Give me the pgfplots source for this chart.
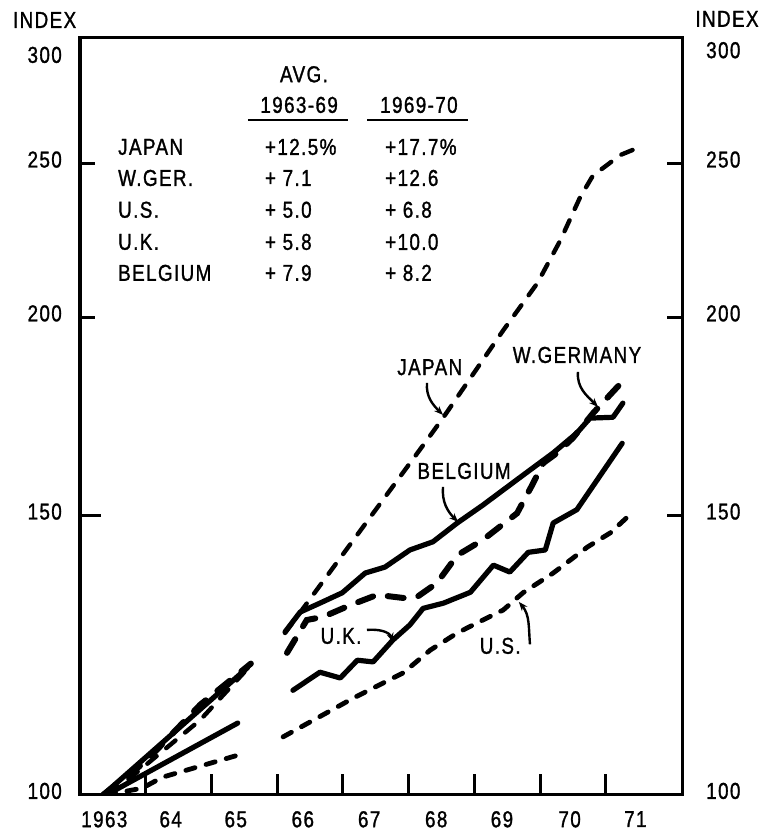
\documentclass[border=0pt]{standalone}
\usepackage{fontspec}
\setmainfont{Liberation Sans}[FakeStretch=0.82, LetterSpace=6, FakeBold=1.2]
\usepackage{pgfplots}
\pgfplotsset{compat=1.18}
\usetikzlibrary{arrows.meta}
\newcommand{\lf}{\fontsize{23}{27}\selectfont}
\tikzset{
  japan/.style={line width=4.4pt, dash pattern=on 12pt off 12.5pt, line cap=round},
  wger/.style={line width=6pt, dash pattern=on 16pt off 15pt, line cap=round},
  solidc/.style={line width=5.2pt, line cap=round, line join=round},
  usline/.style={line width=4.8pt, dash pattern=on 9.5pt off 11.5pt, line cap=round},
  lab/.style={font=\lf, inner sep=0pt},
  arr/.style={line width=2.4pt, -{Stealth[length=9pt,width=7pt]}},
}
\begin{document}
\begin{tikzpicture}
% main axis: frame, x tick marks, data, annotations
\begin{axis}[name=main, scale only axis, width=602pt, height=757pt,
  xmin=1963, xmax=1972.16, ymin=100, ymax=300, ymode=log,
  axis line style={line width=3pt},
  xtick={1964,1965,1966,1967,1968,1969,1970,1971}, xticklabels={},
  xtick pos=bottom, ytick={150}, yticklabels={}, ytick pos=left,
  major tick length=21pt, tick align=inside,
  tick style={line width=3pt, black}, minor tick num=0]
% ---- 1963-65 segment
\addplot[solidc] coordinates {(1963.35,100) (1965.55,120.3)};
\addplot[wger] coordinates {(1963.35,100) (1964.0,105) (1964.83,114) (1965.6,121)};
\addplot[japan] coordinates {(1963.45,100) (1964.83,111.5) (1965.5,119.5)};
\addplot[solidc] coordinates {(1963.4,100) (1965.4,111)};
\addplot[usline] coordinates {(1963.4,100) (1963.95,101) (1964.25,102.6) (1965.42,106)};
% ---- 1966-71 segment
% Japan
\addplot[japan] coordinates {
 (1966.12,126.5) (1968.28,167.4) (1968.53,173.0) (1969.44,196.3) (1969.96,210.2)
 (1970.31,223.7) (1970.61,238.1) (1970.81,245.9) (1970.96,248.4) (1971.22,253.1) (1971.52,256.1)};
% W. Germany
\addplot[wger] coordinates {
 (1966.15,122.9) (1966.45,128.9) (1966.70,129.5) (1967.11,131.7) (1967.52,133.7)
 (1967.92,133.1) (1968.13,133.3) (1968.43,136.0) (1968.74,141.6) (1969.13,144.8)
 (1969.65,150.5) (1969.88,156.8) (1970.05,161.9) (1970.26,164.3) (1970.50,167.9)
 (1970.81,174.1) (1971.30,183.1)};
% Belgium
\addplot[solidc] coordinates {
 (1966.12,126.7) (1966.35,130.4) (1966.65,132.1) (1966.99,134.1) (1967.34,138.0)
 (1967.64,139.2) (1968.02,142.7) (1968.37,144.4) (1968.74,148.4) (1969.13,152.3)
 (1969.70,158.6) (1970.20,164.3) (1970.56,169.1) (1970.76,172.8) (1971.11,173.0) (1971.26,176.6)};
% U.K.
\addplot[solidc] coordinates {
 (1966.24,116.4) (1966.65,119.5) (1966.96,118.5) (1967.22,121.6) (1967.46,121.3)
 (1967.76,125.2) (1968.02,128.0) (1968.22,131.1) (1968.53,132.1) (1968.94,134.2)
 (1969.29,139.6) (1969.54,138.2) (1969.82,142.2) (1970.08,142.7) (1970.20,148.4)
 (1970.56,151.3) (1971.25,166.6)};
% U.S.
\addplot[usline] coordinates {
 (1966.09,108.8) (1967.16,115.1) (1967.92,119.4) (1968.33,123.4) (1968.74,126.5)
 (1969.13,128.9) (1969.44,130.8) (1969.74,134.1) (1970.20,138.0) (1970.72,143.3)
 (1971.07,146.3) (1971.33,149.7)};
% ---- table of growth rates
\node[lab] at (rel axis cs:0.372,0.952) {AVG.};
\node[lab] at (rel axis cs:0.364,0.9115) {1963-69};
\node[lab] at (rel axis cs:0.563,0.9115) {1969-70};
\draw[line width=2.5pt] (rel axis cs:0.279,0.8917) -- (rel axis cs:0.445,0.8917);
\draw[line width=2.5pt] (rel axis cs:0.477,0.8917) -- (rel axis cs:0.645,0.8917);
\node[lab, anchor=west] at (rel axis cs:0.0631,0.856) {JAPAN};
\node[lab, anchor=west] at (rel axis cs:0.307,0.856) {+12.5\%};
\node[lab, anchor=west] at (rel axis cs:0.5066,0.856) {+17.7\%};
\node[lab, anchor=west] at (rel axis cs:0.0631,0.815) {W.GER.};
\node[lab, anchor=west] at (rel axis cs:0.307,0.815) {+ 7.1};
\node[lab, anchor=west] at (rel axis cs:0.5066,0.815) {+12.6};
\node[lab, anchor=west] at (rel axis cs:0.0631,0.773) {U.S.};
\node[lab, anchor=west] at (rel axis cs:0.307,0.773) {+ 5.0};
\node[lab, anchor=west] at (rel axis cs:0.5066,0.773) {+ 6.8};
\node[lab, anchor=west] at (rel axis cs:0.0631,0.7305) {U.K.};
\node[lab, anchor=west] at (rel axis cs:0.307,0.7305) {+ 5.8};
\node[lab, anchor=west] at (rel axis cs:0.5066,0.7305) {+10.0};
\node[lab, anchor=west] at (rel axis cs:0.0631,0.6896) {BELGIUM};
\node[lab, anchor=west] at (rel axis cs:0.307,0.6896) {+ 7.9};
\node[lab, anchor=west] at (rel axis cs:0.5066,0.6896) {+ 8.2};
% ---- series labels with arrows
\node[lab] at (rel axis cs:0.581,0.565) {JAPAN};
\draw[arr] (rel axis cs:0.5764,0.5443) to[out=-95,in=135] (rel axis cs:0.603,0.502);
\node[lab] at (rel axis cs:0.8256,0.5812) {W.GERMANY};
\draw[arr] (rel axis cs:0.8272,0.5588) to[out=-95,in=135] (rel axis cs:0.8605,0.5126);
\node[lab] at (rel axis cs:0.638,0.428) {BELGIUM};
\draw[arr] (rel axis cs:0.603,0.4069) to[out=-95,in=135] (rel axis cs:0.628,0.3606);
\node[lab] at (rel axis cs:0.4336,0.210) {U.K.};
\draw[arr] (rel axis cs:0.4767,0.218) to[out=5,in=110] (rel axis cs:0.52,0.2021);
\node[lab] at (rel axis cs:0.698,0.197) {U.S.};
\draw[arr] (rel axis cs:0.7475,0.1989) to[out=95,in=-50] (rel axis cs:0.729,0.255);
\end{axis}
% left y labels, x labels and INDEX captions
\begin{axis}[scale only axis, width=602pt, height=757pt, clip=false,
  xmin=1963, xmax=1972.16, ymin=100, ymax=300, ymode=log,
  axis line style={line width=3pt}, major tick length=0pt, minor tick num=0,
  xtick={1963.37,1964.38,1965.37,1966.39,1967.4,1968.42,1969.42,1970.45,1971.45},
  xticklabels={1963,64,65,66,67,68,69,70,71},
  ytick={100,150,200,250,291}, yticklabels={100,150,200,250,300},
  yticklabel pos=left,
  tick label style={font=\lf, inner sep=0pt},
  xticklabel style={yshift=-16pt},
  yticklabel style={xshift=-18pt, yshift=4pt}]
\node[lab, anchor=south east] at (rel axis cs:-0.006,1.013) {INDEX};
\node[lab, anchor=south west] at (rel axis cs:1.022,1.0145) {INDEX};
\end{axis}
% y tick marks both sides
\begin{axis}[scale only axis, width=602pt, height=757pt,
  xmin=1963, xmax=1972.16, ymin=100, ymax=300, ymode=log,
  axis line style={line width=3pt}, major tick length=15pt, tick align=inside,
  tick style={line width=3pt, black}, minor tick num=0,
  xtick=\empty, ytick={150,200,250}, yticklabels={}, ytick pos=both]
\end{axis}
% right y labels
\begin{axis}[scale only axis, width=602pt, height=757pt,
  xmin=1963, xmax=1972.16, ymin=100, ymax=300, ymode=log,
  axis line style={line width=3pt}, major tick length=0pt, minor tick num=0,
  xtick=\empty,
  ytick={100,150,200,250,293}, yticklabels={100,150,200,250,300},
  yticklabel pos=right,
  tick label style={font=\lf, inner sep=0pt},
  yticklabel style={xshift=24pt, yshift=4pt}]
\end{axis}
\pgfresetboundingbox
\path[use as bounding box] ([shift={(-80pt,-42pt)}]main.south west) rectangle ([shift={(80pt,38pt)}]main.north east);
\end{tikzpicture}
\end{document}
